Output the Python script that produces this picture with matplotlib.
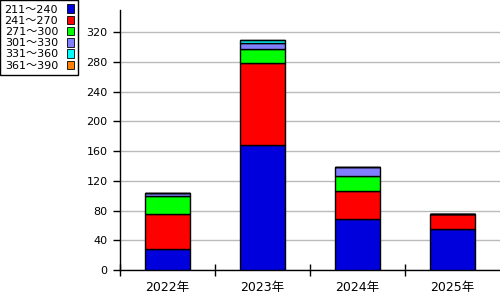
import matplotlib
matplotlib.use("Agg")
import matplotlib.pyplot as plt
from matplotlib.patches import Patch
import numpy as np

plt.rcParams["font.family"] = ["DejaVu Sans", "Noto Sans CJK JP"]

# Data
years = ["2022年", "2023年", "2024年", "2025年"]
ranges = ["211～240", "241～270", "271～300", "301～330", "331～360", "361～390"]
colors = ["#0000dd", "#ff0000", "#00ff00", "#8080ff", "#00ffff", "#ff8000"]
v_211_240 = [28, 168, 68, 55]
v_241_270 = [47, 110, 38, 20]
v_271_300 = [24, 19, 21, 1]
v_301_330 = [4, 9, 11, 0]
v_331_360 = [0, 3, 0, 0]
v_361_390 = [0, 0, 0, 0]
series = [v_211_240, v_241_270, v_271_300, v_301_330, v_331_360, v_361_390]

fig = plt.figure(figsize=(5, 3), dpi=100)
ax = fig.add_axes([0.24, 0.1, 0.76, 0.8667])

x = np.arange(len(years)) + 0.5
bottom = np.zeros(len(years))
for vals, col in zip(series, colors):
    vals = np.array(vals, dtype=float)
    ax.bar(x, vals, width=0.47, bottom=bottom, color=col,
           edgecolor="black", linewidth=1.0, zorder=3)
    bottom += vals

ax.set_xlim(0, 4)
ax.set_ylim(0, 350)
ax.set_yticks(np.arange(0, 321, 40))
ax.yaxis.grid(True, color="#bbbbbb", linewidth=1.0, zorder=0)
ax.set_axisbelow(True)

# category boundaries as major ticks, labels on minor ticks
ax.set_xticks([0, 1, 2, 3])
ax.set_xticklabels([])
ax.set_xticks(x, minor=True)
ax.set_xticklabels(years, minor=True)
ax.tick_params(axis="x", which="major", direction="inout", length=9, width=1)
ax.tick_params(axis="x", which="minor", length=0, pad=8, labelsize=9)
ax.tick_params(axis="y", direction="out", length=5, width=1, labelsize=8, pad=4)

for s in ["top", "right"]:
    ax.spines[s].set_visible(False)
for s in ["left", "bottom"]:
    ax.spines[s].set_linewidth(1.0)

handles = [Patch(facecolor=c, edgecolor="black", linewidth=0.6) for c in colors]
leg = fig.legend(handles, ranges, loc="upper left", bbox_to_anchor=(0.0, 1.0),
                 markerfirst=False, fancybox=False, framealpha=1,
                 edgecolor="black", fontsize=8, handlelength=0.6,
                 handleheight=0.8, handletextpad=0.8, labelspacing=0.1,
                 borderpad=0.4, borderaxespad=0.0)
leg.get_frame().set_linewidth(1.0)

fig.savefig("out.png", dpi=100)
